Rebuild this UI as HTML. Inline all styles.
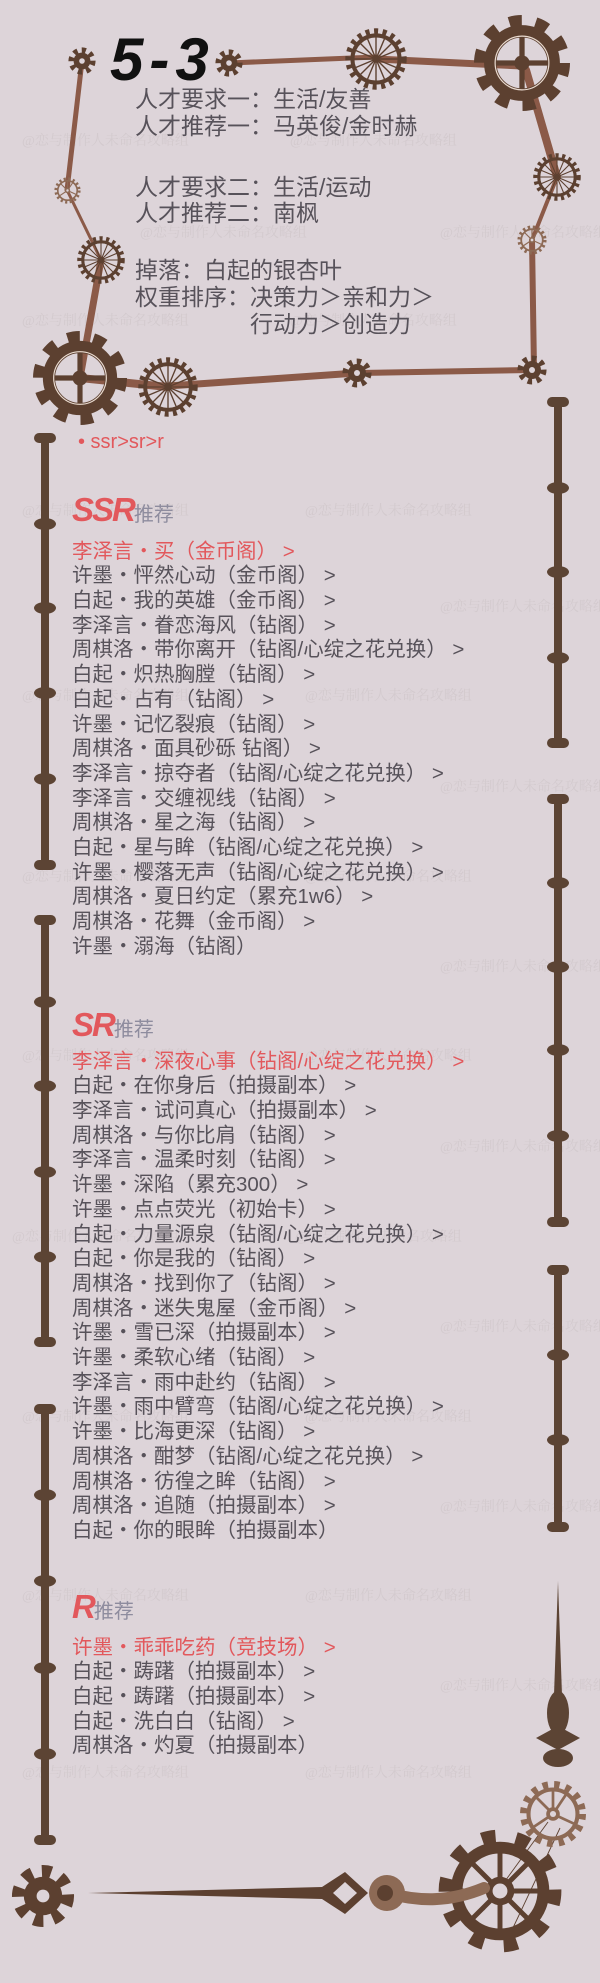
<!DOCTYPE html>
<html><head><meta charset="utf-8">
<style>
html,body{margin:0;padding:0;}
body{width:600px;height:1983px;background:#ddd4d9;position:relative;overflow:hidden;font-family:"Liberation Sans","Noto Sans CJK SC",sans-serif;}
svg{position:absolute;left:0;top:0;}
.t{position:absolute;white-space:nowrap;color:#57525a;}
.top{left:135px;font-size:23px;line-height:27px;}
.list{left:72px;font-size:20.5px;line-height:24.7px;}
.red{color:#e2585c;}
.hd{position:absolute;left:72px;white-space:nowrap;}
.hd b{font-family:"Liberation Sans",sans-serif;font-style:italic;font-weight:bold;color:#e2585c;font-size:33px;letter-spacing:-2px;}
.hd span{color:#8e8c9e;font-size:20px;}
.wm{position:absolute;white-space:nowrap;font-family:"Liberation Serif","Noto Serif CJK SC",serif;font-size:14px;color:#d3cace;}
</style></head>
<body>
<div class="wm" style="left:22px;top:130px">@恋与制作人未命名攻略组</div>
<div class="wm" style="left:290px;top:130px">@恋与制作人未命名攻略组</div>
<div class="wm" style="left:140px;top:222px">@恋与制作人未命名攻略组</div>
<div class="wm" style="left:440px;top:222px">@恋与制作人未命名攻略组</div>
<div class="wm" style="left:22px;top:310px">@恋与制作人未命名攻略组</div>
<div class="wm" style="left:290px;top:310px">@恋与制作人未命名攻略组</div>
<div class="wm" style="left:22px;top:500px">@恋与制作人未命名攻略组</div>
<div class="wm" style="left:305px;top:500px">@恋与制作人未命名攻略组</div>
<div class="wm" style="left:440px;top:596px">@恋与制作人未命名攻略组</div>
<div class="wm" style="left:22px;top:685px">@恋与制作人未命名攻略组</div>
<div class="wm" style="left:305px;top:685px">@恋与制作人未命名攻略组</div>
<div class="wm" style="left:440px;top:776px">@恋与制作人未命名攻略组</div>
<div class="wm" style="left:22px;top:866px">@恋与制作人未命名攻略组</div>
<div class="wm" style="left:305px;top:866px">@恋与制作人未命名攻略组</div>
<div class="wm" style="left:440px;top:956px">@恋与制作人未命名攻略组</div>
<div class="wm" style="left:22px;top:1045px">@恋与制作人未命名攻略组</div>
<div class="wm" style="left:305px;top:1045px">@恋与制作人未命名攻略组</div>
<div class="wm" style="left:440px;top:1136px">@恋与制作人未命名攻略组</div>
<div class="wm" style="left:12px;top:1226px">@恋与制作人未命名攻略组</div>
<div class="wm" style="left:295px;top:1226px">@恋与制作人未命名攻略组</div>
<div class="wm" style="left:440px;top:1316px">@恋与制作人未命名攻略组</div>
<div class="wm" style="left:22px;top:1406px">@恋与制作人未命名攻略组</div>
<div class="wm" style="left:305px;top:1406px">@恋与制作人未命名攻略组</div>
<div class="wm" style="left:440px;top:1496px">@恋与制作人未命名攻略组</div>
<div class="wm" style="left:22px;top:1585px">@恋与制作人未命名攻略组</div>
<div class="wm" style="left:305px;top:1585px">@恋与制作人未命名攻略组</div>
<div class="wm" style="left:440px;top:1675px">@恋与制作人未命名攻略组</div>
<div class="wm" style="left:22px;top:1762px">@恋与制作人未命名攻略组</div>
<div class="wm" style="left:305px;top:1762px">@恋与制作人未命名攻略组</div>

<svg width="600" height="1983" viewBox="0 0 600 1983">
<defs>
<symbol id="star" viewBox="-10 -10 20 20">
<circle r="7.6" fill="none" stroke="#5c4030" stroke-width="4.2" stroke-dasharray="2.9 3"/>
<circle r="6" fill="#5c4030"/>
<circle r="2" fill="#ddd4d9"/>
</symbol>
<symbol id="spoke" viewBox="-10 -10 20 20">
<circle r="8.9" fill="none" stroke="#5c4030" stroke-width="2" stroke-dasharray="1.3 1.45"/>
<circle r="7.6" fill="none" stroke="#5c4030" stroke-width="1.3"/>
<g stroke="#5c4030" stroke-width="0.45">
<line x1="-7.5" y1="0" x2="7.5" y2="0"/><line x1="0" y1="-7.5" x2="0" y2="7.5"/>
<line x1="-5.3" y1="-5.3" x2="5.3" y2="5.3"/><line x1="-5.3" y1="5.3" x2="5.3" y2="-5.3"/>
<line x1="-6.9" y1="-2.9" x2="6.9" y2="2.9"/><line x1="-6.9" y1="2.9" x2="6.9" y2="-2.9"/>
<line x1="-2.9" y1="-6.9" x2="2.9" y2="6.9"/><line x1="-2.9" y1="6.9" x2="2.9" y2="-6.9"/>
</g>
<circle r="1.2" fill="#5c4030"/>
</symbol>
<symbol id="light" viewBox="-10 -10 20 20">
<circle r="8.6" fill="none" stroke="#8d6a55" stroke-width="2.2" stroke-dasharray="1.6 1.8"/>
<circle r="7.2" fill="none" stroke="#8d6a55" stroke-width="1.2"/>
<g stroke="#8d6a55" stroke-width="0.8">
<line x1="0" y1="0" x2="0" y2="-7"/><line x1="0" y1="0" x2="6.5" y2="3"/><line x1="0" y1="0" x2="-6" y2="4"/><line x1="0" y1="0" x2="-5" y2="-5"/><line x1="0" y1="0" x2="4" y2="-6"/>
</g>
<circle r="2" fill="#8d6a55"/><circle r="0.9" fill="#ddd4d9"/>
</symbol>
<symbol id="big" viewBox="-10 -10 20 20">
<circle r="8.7" fill="none" stroke="#5c4030" stroke-width="2.6" stroke-dasharray="2.6 2.87"/>
<circle r="6.6" fill="none" stroke="#5c4030" stroke-width="2.6"/>
<circle r="5.6" fill="none" stroke="#eadbd0" stroke-width="0.25"/>
<g stroke="#5c4030" stroke-width="1.1">
<line x1="-5.4" y1="0" x2="5.4" y2="0"/><line x1="0" y1="-5.4" x2="0" y2="5.4"/>
</g>
<circle r="1.6" fill="#5c4030"/>
</symbol>
<symbol id="wheel" viewBox="-10 -10 20 20">
<circle r="8.8" fill="none" stroke="#5c4030" stroke-width="2.2" stroke-dasharray="2.2 3.3"/>
<circle r="7" fill="none" stroke="#5c4030" stroke-width="1.9"/>
<g stroke="#5c4030" stroke-width="0.8">
<line x1="-6.5" y1="0" x2="6.5" y2="0"/><line x1="0" y1="-6.5" x2="0" y2="6.5"/>
<line x1="-4.6" y1="-4.6" x2="4.6" y2="4.6"/><line x1="-4.6" y1="4.6" x2="4.6" y2="-4.6"/>
</g>
<circle r="2.3" fill="#5c4030"/><circle r="1.2" fill="#ddd4d9"/>
</symbol>
</defs>

<g stroke="#8b5a48" stroke-linecap="round" fill="none">
<line x1="82" y1="61" x2="67" y2="190" stroke-width="5"/>
<line x1="67" y1="190" x2="101" y2="260" stroke-width="3"/>
<line x1="101" y1="260" x2="80" y2="378" stroke-width="7"/>
<line x1="229" y1="63" x2="376" y2="57" stroke-width="5"/>
<line x1="376" y1="59" x2="522" y2="66" stroke-width="7"/>
<line x1="526" y1="70" x2="557" y2="177" stroke-width="8"/>
<line x1="557" y1="177" x2="532" y2="240" stroke-width="4"/>
<line x1="532" y1="240" x2="534" y2="370" stroke-width="6"/>
<line x1="80" y1="378" x2="168" y2="387" stroke-width="8"/>
<line x1="168" y1="386" x2="357" y2="373" stroke-width="7"/>
<line x1="357" y1="373" x2="532" y2="370" stroke-width="6"/>
</g>
<use href="#star" x="68" y="47" width="28" height="28"/>
<use href="#star" x="215" y="49" width="28" height="28"/>
<use href="#spoke" x="345" y="28" width="62" height="62"/>
<use href="#big" x="474" y="15" width="96" height="96"/>
<use href="#spoke" x="533" y="153" width="48" height="48"/>
<use href="#light" x="517" y="225" width="30" height="30"/>
<use href="#star" x="517" y="355" width="30" height="30"/>
<use href="#star" x="342" y="358" width="30" height="30"/>
<use href="#light" x="54" y="177" width="27" height="27"/>
<use href="#spoke" x="77" y="236" width="48" height="48"/>
<use href="#big" x="33" y="331" width="94" height="94"/>
<use href="#spoke" x="138" y="357" width="60" height="60"/>

<g fill="#5c4434">
<rect x="41" y="438" width="8" height="427"/>
<rect x="34" y="433" width="22" height="10" rx="5"/><rect x="34" y="860" width="22" height="10" rx="5"/>
<ellipse cx="45" cy="524" rx="11" ry="6"/><ellipse cx="45" cy="608" rx="11" ry="6"/><ellipse cx="45" cy="693" rx="11" ry="6"/><ellipse cx="45" cy="779" rx="11" ry="6"/>
<rect x="41" y="920" width="8" height="422"/>
<rect x="34" y="915" width="22" height="10" rx="5"/><rect x="34" y="1337" width="22" height="10" rx="5"/>
<ellipse cx="45" cy="1002" rx="11" ry="6"/><ellipse cx="45" cy="1086" rx="11" ry="6"/><ellipse cx="45" cy="1172" rx="11" ry="6"/><ellipse cx="45" cy="1257" rx="11" ry="6"/>
<rect x="41" y="1409" width="8" height="431"/>
<rect x="34" y="1404" width="22" height="10" rx="5"/><rect x="34" y="1835" width="22" height="10" rx="5"/>
<ellipse cx="45" cy="1495" rx="11" ry="6"/><ellipse cx="45" cy="1581" rx="11" ry="6"/><ellipse cx="45" cy="1668" rx="11" ry="6"/><ellipse cx="45" cy="1754" rx="11" ry="6"/>
<rect x="554" y="402" width="8" height="341"/>
<rect x="547" y="397" width="22" height="10" rx="5"/><rect x="547" y="738" width="22" height="10" rx="5"/>
<ellipse cx="558" cy="488" rx="11" ry="6"/><ellipse cx="558" cy="572" rx="11" ry="6"/><ellipse cx="558" cy="658" rx="11" ry="6"/>
<rect x="554" y="799" width="8" height="423"/>
<rect x="547" y="794" width="22" height="10" rx="5"/><rect x="547" y="1217" width="22" height="10" rx="5"/>
<ellipse cx="558" cy="883" rx="11" ry="6"/><ellipse cx="558" cy="967" rx="11" ry="6"/><ellipse cx="558" cy="1050" rx="11" ry="6"/><ellipse cx="558" cy="1136" rx="11" ry="6"/>
<rect x="554" y="1270" width="8" height="257"/>
<rect x="547" y="1265" width="22" height="10" rx="5"/><rect x="547" y="1522" width="22" height="10" rx="5"/>
<ellipse cx="558" cy="1355" rx="11" ry="6"/><ellipse cx="558" cy="1440" rx="11" ry="6"/>
<polygon points="558,1581 562,1695 554,1695"/>
<ellipse cx="558" cy="1713" rx="11" ry="22"/>
<polygon points="536,1738 558,1726 580,1738 558,1750"/>
<ellipse cx="558" cy="1758" rx="15" ry="9"/>
</g>

<use href="#star" x="11" y="1864" width="64" height="64"/>
<g stroke="#5c4030" stroke-width="0.9">
<line x1="548" y1="1822" x2="484" y2="1910"/>
<line x1="560" y1="1828" x2="512" y2="1930"/>
</g>
<use href="#wheel" x="438" y="1829" width="124" height="124"/>
<use href="#light" x="519" y="1780" width="68" height="68"/>
<path d="M387,1893 C420,1902 450,1902 484,1888" stroke="#8d6a55" stroke-width="12" fill="none" stroke-linecap="round"/>
<circle cx="387" cy="1893" r="18" fill="#8d6a55"/>
<polygon points="88,1893 322,1887 345,1872 368,1893 345,1914 322,1899" fill="#5c4030"/>
<polygon points="333,1893 345,1882 357,1893 345,1904" fill="#ddd4d9"/>
<circle cx="385" cy="1893" r="8" fill="#5c4030"/>
</svg>

<div class="t" style="left:110px;top:28px;font-family:'Liberation Sans',sans-serif;font-weight:bold;font-style:italic;font-size:60px;line-height:64px;color:#111;letter-spacing:6px;">5-3</div>

<div class="t top" style="top:86px">人才要求一：生活/友善</div>
<div class="t top" style="top:113px">人才推荐一：马英俊/金时赫</div>
<div class="t top" style="top:174px">人才要求二：生活/运动</div>
<div class="t top" style="top:200px">人才推荐二：南枫</div>
<div class="t top" style="top:257px">掉落：白起的银杏叶</div>
<div class="t top" style="top:284px">权重排序：决策力＞亲和力＞</div>
<div class="t top" style="top:311px;left:250px">行动力＞创造力</div>

<div class="t red" style="left:78px;top:430px;font-size:20px;line-height:24px;">• ssr&gt;sr&gt;r</div>

<div class="hd" style="top:488px;line-height:44px"><b>SSR</b><span>推荐</span></div>
<div class="t list" style="top:539.6px">
<div class="red">李泽言・买（金币阁） &gt;</div>
<div>许墨・怦然心动（金币阁） &gt;</div>
<div>白起・我的英雄（金币阁） &gt;</div>
<div>李泽言・眷恋海风（钻阁） &gt;</div>
<div>周棋洛・带你离开（钻阁/心绽之花兑换） &gt;</div>
<div>白起・炽热胸膛（钻阁） &gt;</div>
<div>白起・占有（钻阁） &gt;</div>
<div>许墨・记忆裂痕（钻阁） &gt;</div>
<div>周棋洛・面具砂砾 钻阁） &gt;</div>
<div>李泽言・掠夺者（钻阁/心绽之花兑换） &gt;</div>
<div>李泽言・交缠视线（钻阁） &gt;</div>
<div>周棋洛・星之海（钻阁） &gt;</div>
<div>白起・星与眸（钻阁/心绽之花兑换） &gt;</div>
<div>许墨・樱落无声（钻阁/心绽之花兑换） &gt;</div>
<div>周棋洛・夏日约定（累充1w6） &gt;</div>
<div>周棋洛・花舞（金币阁） &gt;</div>
<div>许墨・溺海（钻阁）</div>
</div>

<div class="hd" style="top:1003px;line-height:44px"><b>SR</b><span>推荐</span></div>
<div class="t list" style="top:1049.6px">
<div class="red">李泽言・深夜心事（钻阁/心绽之花兑换） &gt;</div>
<div>白起・在你身后（拍摄副本） &gt;</div>
<div>李泽言・试问真心（拍摄副本） &gt;</div>
<div>周棋洛・与你比肩（钻阁） &gt;</div>
<div>李泽言・温柔时刻（钻阁） &gt;</div>
<div>许墨・深陷（累充300） &gt;</div>
<div>许墨・点点荧光（初始卡） &gt;</div>
<div>白起・力量源泉（钻阁/心绽之花兑换） &gt;</div>
<div>白起・你是我的（钻阁） &gt;</div>
<div>周棋洛・找到你了（钻阁） &gt;</div>
<div>周棋洛・迷失鬼屋（金币阁） &gt;</div>
<div>许墨・雪已深（拍摄副本） &gt;</div>
<div>许墨・柔软心绪（钻阁） &gt;</div>
<div>李泽言・雨中赴约（钻阁） &gt;</div>
<div>许墨・雨中臂弯（钻阁/心绽之花兑换） &gt;</div>
<div>许墨・比海更深（钻阁） &gt;</div>
<div>周棋洛・酣梦（钻阁/心绽之花兑换） &gt;</div>
<div>周棋洛・彷徨之眸（钻阁） &gt;</div>
<div>周棋洛・追随（拍摄副本） &gt;</div>
<div>白起・你的眼眸（拍摄副本）</div>
</div>

<div class="hd" style="top:1585px;line-height:44px"><b>R</b><span>推荐</span></div>
<div class="t list" style="top:1635.6px">
<div class="red">许墨・乖乖吃药（竞技场） &gt;</div>
<div>白起・踌躇（拍摄副本） &gt;</div>
<div>白起・踌躇（拍摄副本） &gt;</div>
<div>白起・洗白白（钻阁） &gt;</div>
<div>周棋洛・灼夏（拍摄副本）</div>
</div>
</body></html>
